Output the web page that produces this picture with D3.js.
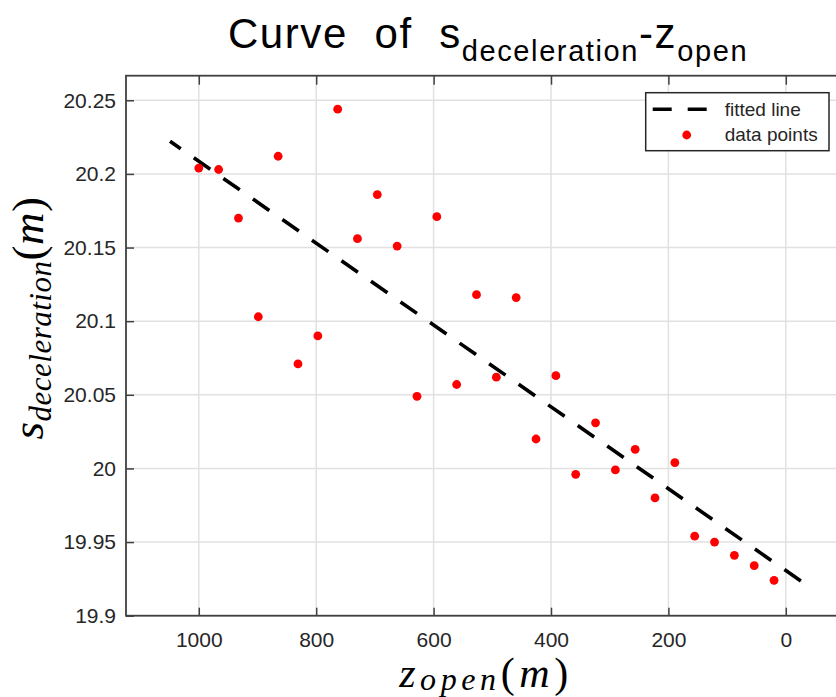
<!DOCTYPE html>
<html>
<head>
<meta charset="utf-8">
<script src="https://cdn.jsdelivr.net/npm/d3@7"></script>
<style>
  body { margin: 0; background: #fff; }
  text { font-family: "Liberation Sans", Arial, sans-serif; fill: #262626; }
  .math { font-family: "Liberation Serif", "Times New Roman", serif; font-style: italic; fill: #000; }
</style>
</head>
<body>
<div id="chart"></div>
<script>
// data
var zOpen = [1000, 966.2, 932.4, 898.6, 864.8, 831.0, 797.2, 763.4, 729.7, 695.9,
             662.1, 628.3, 594.5, 560.7, 526.9, 493.1, 459.3, 425.5, 391.7, 357.9,
             324.1, 290.3, 256.6, 222.8, 189.0, 155.2, 121.4, 87.6, 53.8, 20.0];
var sDecel = [20.204, 20.203, 20.170, 20.103, 20.212, 20.071, 20.090, 20.244, 20.156, 20.186,
              20.151, 20.049, 20.171, 20.057, 20.118, 20.062, 20.116, 20.020, 20.063, 19.996,
              20.031, 19.999, 20.013, 19.980, 20.004, 19.954, 19.950, 19.941, 19.934, 19.924];
// end points of the fitted line
var fitZ = [1049, -29];
var fitS = [20.2222, 19.9226];

var xTicks = [1000, 800, 600, 400, 200, 0];
var yTicks = [19.9, 19.95, 20, 20.05, 20.1, 20.15, 20.2, 20.25];
var xDomain = [1124, -100];
var yDomain = [19.9, 20.2667];
var legendLabels = ["fitted line", "data points"];

var width = 836, height = 697;
var box = {left: 126, top: 75.7, right: 844.5, bottom: 615.7};

var svg = d3.select("#chart")
  .append("svg")
    .attr("width", width)
    .attr("height", height);

var x = d3.scaleLinear().domain(xDomain).range([box.left, box.right]);
var y = d3.scaleLinear().domain(yDomain).range([box.bottom, box.top]);

// grid
svg.append("g").selectAll("line")
  .data(xTicks)
  .enter().append("line")
    .attr("x1", function(d) { return x(d); })
    .attr("x2", function(d) { return x(d); })
    .attr("y1", box.top)
    .attr("y2", box.bottom)
    .attr("stroke", "#e1e1e1")
    .attr("stroke-width", 1.5);

svg.append("g").selectAll("line")
  .data(yTicks)
  .enter().append("line")
    .attr("x1", box.left)
    .attr("x2", box.right)
    .attr("y1", function(d) { return y(d); })
    .attr("y2", function(d) { return y(d); })
    .attr("stroke", "#e1e1e1")
    .attr("stroke-width", 1.5);

// axes, ticks pointing inward like matlab
var xAxis = d3.axisBottom(x).tickValues(xTicks).tickSizeInner(-8).tickSizeOuter(0).tickPadding(16)
  .tickFormat(d3.format("d"));
var xAxisTop = d3.axisTop(x).tickValues(xTicks).tickSizeInner(-9).tickSizeOuter(0).tickFormat("");
var yAxis = d3.axisLeft(y).tickValues(yTicks).tickSizeInner(-8).tickSizeOuter(0).tickPadding(10)
  .tickFormat(function(d) { return String(+d.toFixed(2)); });

function styleAxis(g) {
  g.select(".domain").remove();
  g.selectAll(".tick line").attr("stroke", "#404040").attr("stroke-width", 1.5);
  g.selectAll(".tick text")
    .attr("font-family", "Liberation Sans, Arial, sans-serif")
    .attr("font-size", 21)
    .attr("fill", "#262626");
}

svg.append("g")
  .attr("transform", "translate(0," + box.bottom + ")")
  .call(xAxis).call(styleAxis);

svg.append("g")
  .attr("transform", "translate(0," + box.top + ")")
  .call(xAxisTop).call(styleAxis);

svg.append("g")
  .attr("transform", "translate(" + box.left + ",0)")
  .call(yAxis).call(styleAxis);

// axes box
svg.append("rect")
  .attr("x", box.left)
  .attr("y", box.top)
  .attr("width", box.right - box.left)
  .attr("height", box.bottom - box.top)
  .attr("fill", "none")
  .attr("stroke", "#404040")
  .attr("stroke-width", 1.8);

// fitted line
var fitData = fitZ.map(function(z, i) { return {z: z, s: fitS[i]}; });
var line = d3.line()
  .x(function(d) { return x(d.z); })
  .y(function(d) { return y(d.s); });

svg.append("path")
  .datum(fitData)
  .attr("d", line)
  .attr("fill", "none")
  .attr("stroke", "#000")
  .attr("stroke-width", 3.6)
  .attr("stroke-dasharray", "20,16")
  .attr("stroke-dashoffset", 7);

// data points
svg.append("g").selectAll("circle")
  .data(zOpen)
  .enter().append("circle")
    .attr("cx", function(d) { return x(d); })
    .attr("cy", function(d, i) { return y(sDecel[i]); })
    .attr("r", 4.4)
    .attr("fill", "#ff0000");

// legend
var legend = svg.append("g").attr("transform", "translate(645.7,92.7)");
legend.append("rect")
  .attr("width", 183.3)
  .attr("height", 58)
  .attr("fill", "#fff")
  .attr("stroke", "#262626")
  .attr("stroke-width", 1.5);

legend.append("line")
  .attr("x1", 7).attr("x2", 63)
  .attr("y1", 16.6).attr("y2", 16.6)
  .attr("stroke", "#000")
  .attr("stroke-width", 3.6)
  .attr("stroke-dasharray", "19,16");

legend.append("circle")
  .attr("cx", 41).attr("cy", 42.3)
  .attr("r", 4.4)
  .attr("fill", "#ff0000");

legend.selectAll("text.leg")
  .data(legendLabels)
  .enter().append("text")
    .attr("class", "leg")
    .attr("x", 79)
    .attr("y", function(d, i) { return 23 + i * 25; })
    .attr("font-size", 19)
    .text(function(d) { return d; });

// title
var title = svg.append("text")
  .attr("x", 488)
  .attr("y", 48)
  .attr("text-anchor", "middle")
  .attr("font-size", 42)
  .attr("letter-spacing", 1.6)
  .style("fill", "#000")
  .style("white-space", "pre");
title.append("tspan").text("Curve  of  s");
title.append("tspan").attr("font-size", 29).attr("dy", 13).text("deceleration");
title.append("tspan").attr("dy", -13).text("-z");
title.append("tspan").attr("font-size", 29).attr("dy", 13).text("open");

// x label
var xlab = svg.append("text")
  .attr("class", "math")
  .attr("x", 486)
  .attr("y", 687)
  .attr("text-anchor", "middle")
  .attr("font-size", 42)
  .attr("letter-spacing", 4.6);
xlab.append("tspan").text("z");
xlab.append("tspan").attr("font-size", 32).attr("dy", 3).text("open");
xlab.append("tspan").attr("dy", -3).style("font-style", "normal").text("(");
xlab.append("tspan").text("m");
xlab.append("tspan").style("font-style", "normal").text(")");

// y label
var ylab = svg.append("text")
  .attr("class", "math")
  .attr("transform", "translate(43,318) rotate(-90)")
  .attr("text-anchor", "middle")
  .attr("font-size", 45)
  .attr("letter-spacing", 0.5);
ylab.append("tspan").text("s");
ylab.append("tspan").attr("font-size", 31).attr("dy", 8).text("deceleration");
ylab.append("tspan").attr("dy", -8).style("font-style", "normal").text("(");
ylab.append("tspan").text("m");
ylab.append("tspan").style("font-style", "normal").text(")");
</script>
</body>
</html>
